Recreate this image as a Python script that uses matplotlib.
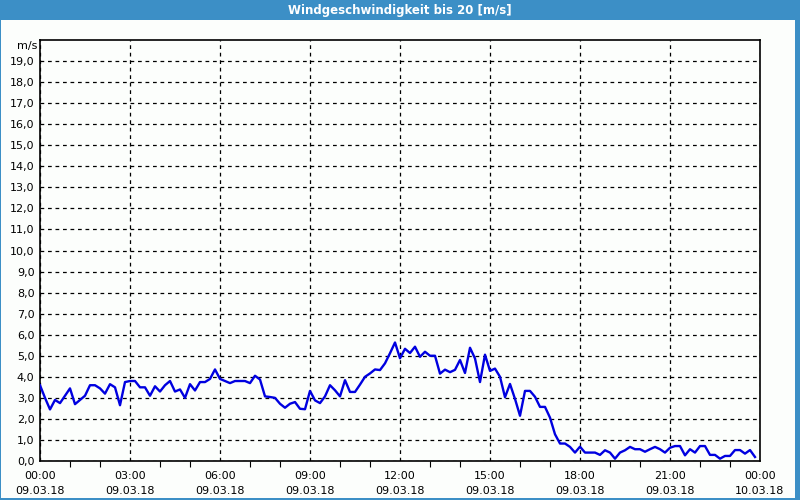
import numpy as np
import matplotlib.pyplot as plt
from matplotlib.patches import Rectangle
from matplotlib.ticker import MultipleLocator, FixedLocator

TITLE = "Windgeschwindigkeit bis 20 [m/s]"

# wind speed in m/s, one value every 10 minutes from 00:00 to 23:50
wind = [
    3.6, 3.0, 2.45, 2.9, 2.75, 3.1, 3.45, 2.7, 2.9, 3.1,
    3.6, 3.6, 3.45, 3.2, 3.65, 3.5, 2.65, 3.75, 3.8, 3.8,
    3.5, 3.5, 3.1, 3.55, 3.3, 3.6, 3.8, 3.3, 3.4, 3.0,
    3.65, 3.35, 3.75, 3.75, 3.9, 4.35, 3.9, 3.8, 3.7, 3.8,
    3.8, 3.8, 3.7, 4.05, 3.87, 3.07, 3.04, 3.0, 2.72, 2.53,
    2.72, 2.8, 2.48, 2.46, 3.33, 2.88, 2.75, 3.07, 3.6, 3.36,
    3.07, 3.84, 3.28, 3.28, 3.63, 4.0, 4.16, 4.35, 4.32, 4.64,
    5.12, 5.63, 4.88, 5.33, 5.13, 5.43, 4.95, 5.19, 5.0, 5.0,
    4.15, 4.34, 4.22, 4.33, 4.8, 4.18, 5.38, 4.87, 3.75, 5.05,
    4.28, 4.39, 4.0, 3.03, 3.66, 2.95, 2.15, 3.33, 3.33, 3.05,
    2.57, 2.57, 2.06, 1.27, 0.83, 0.83, 0.67, 0.40, 0.68, 0.40,
    0.40, 0.40, 0.29, 0.51, 0.40, 0.11, 0.40, 0.51, 0.67, 0.56,
    0.56, 0.44, 0.56, 0.67, 0.56, 0.40, 0.63, 0.71, 0.71, 0.27,
    0.56, 0.40, 0.71, 0.71, 0.29, 0.29, 0.11, 0.24, 0.24, 0.52,
    0.52, 0.35, 0.52, 0.19,
]

x_ticks = [0, 3, 6, 9, 12, 15, 18, 21, 24]
x_labels = [
    "00:00\n09.03.18", "03:00\n09.03.18", "06:00\n09.03.18",
    "09:00\n09.03.18", "12:00\n09.03.18", "15:00\n09.03.18",
    "18:00\n09.03.18", "21:00\n09.03.18", "00:00\n10.03.18",
]
y_ticks = list(range(0, 20))
y_labels = [f"{v},0" for v in y_ticks]

hours = np.arange(len(wind)) / 6.0

border = "#3c8fc6"

fig = plt.figure(figsize=(8, 5), dpi=100, facecolor="#fcfefc")

# title bar and window border
fig.patches.append(Rectangle((0, 0.96), 1, 0.04, transform=fig.transFigure,
                             facecolor=border, edgecolor="none", zorder=0))
fig.patches.append(Rectangle((0, 0), 0.0015, 1, transform=fig.transFigure,
                             facecolor=border, edgecolor="none", zorder=0))
fig.patches.append(Rectangle((0.994, 0), 0.006, 1, transform=fig.transFigure,
                             facecolor=border, edgecolor="none", zorder=0))
fig.patches.append(Rectangle((0, 0), 1, 0.004, transform=fig.transFigure,
                             facecolor=border, edgecolor="none", zorder=0))
fig.text(0.5, 0.979, TITLE, color="white", fontsize=8.5, fontweight="bold",
         ha="center", va="center")

ax = fig.add_axes([0.05, 0.078, 0.90, 0.842])
ax.set_facecolor("#fcfefc")

ax.plot(hours, wind, color="#0000e0", linewidth=1.7, zorder=3)

ax.set_xlim(0, 24)
ax.set_ylim(0, 20)

ax.xaxis.set_major_locator(FixedLocator(x_ticks))
ax.set_xticklabels(x_labels, fontsize=8, linespacing=1.7)
ax.xaxis.set_minor_locator(MultipleLocator(1))
ax.set_yticks(y_ticks)
ax.set_yticklabels(y_labels, fontsize=8)

ax.tick_params(axis="both", which="major", length=0, pad=4)
ax.tick_params(axis="x", which="minor", length=4, width=0.8, color="black")
ax.tick_params(axis="x", which="major", pad=7)

ax.grid(True, which="major", color="black", linestyle=(0, (3, 3)),
        linewidth=0.9)
ax.set_axisbelow(True)

for s in ax.spines.values():
    s.set_color("black")
    s.set_linewidth(1.2)

ax.text(-0.004, 19.7, "m/s", transform=ax.get_yaxis_transform(),
        ha="right", va="center", fontsize=8)

fig.savefig("out.png", dpi=100, facecolor=fig.get_facecolor())
